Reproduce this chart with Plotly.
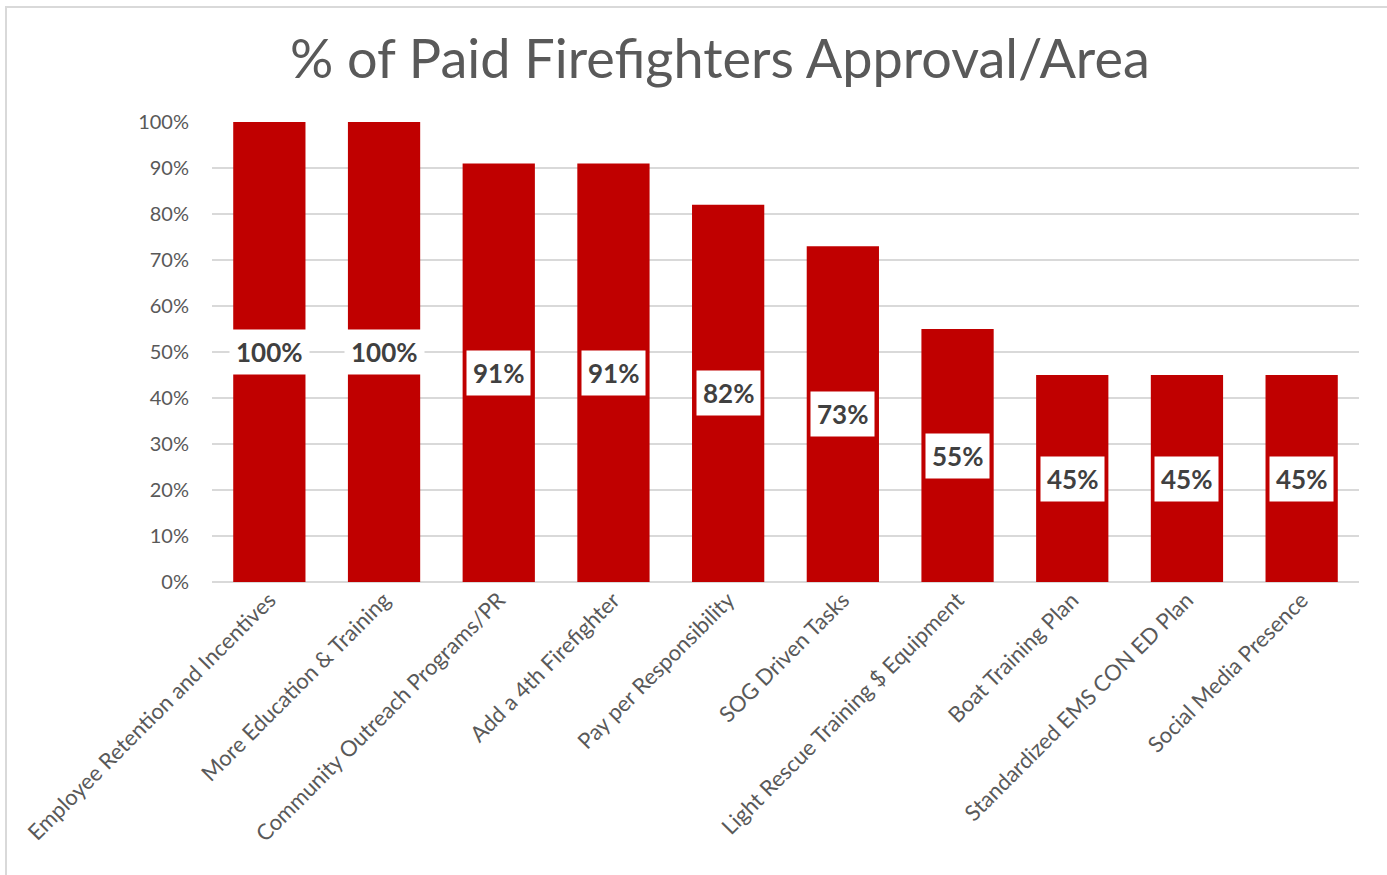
import plotly.graph_objects as go

# Survey results: share of paid firefighters approving each area
categories = [
    "Employee Retention and Incentives",
    "More Education & Training",
    "Community Outreach Programs/PR",
    "Add a 4th Firefighter",
    "Pay per Responsibility",
    "SOG Driven Tasks",
    "Light Rescue Training $ Equipment",
    "Boat Training Plan",
    "Standardized EMS CON ED Plan",
    "Social Media Presence",
]
approval_pct = [100, 100, 91, 91, 82, 73, 55, 45, 45, 45]
y_ticks = [0, 10, 20, 30, 40, 50, 60, 70, 80, 90, 100]
y_tick_labels = [f"{v}%" for v in y_ticks]

FONT = "Lato, 'Open Sans', sans-serif"
BAR_RED = "#C00000"
TEXT_GRAY = "#595959"
GRID = "#D9D9D9"

fig = go.Figure(
    go.Bar(
        x=categories,
        y=approval_pct,
        marker=dict(color=BAR_RED, line=dict(width=0)),
        hoverinfo="x+y",
    )
)

# Value labels in white boxes, centred on each bar
for cat, val in zip(categories, approval_pct):
    fig.add_annotation(
        x=cat, y=val / 2, xref="x", yref="y",
        text=f"<b>{val}%</b>",
        showarrow=False,
        font=dict(family=FONT, size=26, color="#404040"),
        bgcolor="white",
        borderpad=6,
    )

# Light frame around the whole chart
fig.add_shape(
    type="rect", xref="paper", yref="paper",
    x0=-0.1796, x1=1.2, y0=-1.2, y1=1.25,
    line=dict(color=GRID, width=2), fillcolor="rgba(0,0,0,0)",
    layer="below",
)

fig.update_layout(
    width=1387, height=875,
    margin=dict(l=212, r=28, t=122, b=293),
    paper_bgcolor="white", plot_bgcolor="white",
    bargap=0.37,
    showlegend=False,
    title=dict(
        text="% of Paid Firefighters Approval/Area",
        x=0.519, xref="container", xanchor="center",
        y=0.932, yref="container", yanchor="middle",
        font=dict(family=FONT, size=54, color=TEXT_GRAY),
    ),
    xaxis=dict(
        tickangle=-45,
        tickfont=dict(family=FONT, size=22, color=TEXT_GRAY),
        showgrid=False, showline=False, ticks="",
    ),
    yaxis=dict(
        range=[0, 100],
        tickmode="array",
        tickvals=y_ticks,
        ticktext=y_tick_labels,
        tickfont=dict(family=FONT, size=20, color=TEXT_GRAY),
        showgrid=True, gridcolor=GRID, gridwidth=1.5,
        zeroline=True, zerolinecolor=GRID, zerolinewidth=1.5,
        showline=False, ticks="", ticklabelstandoff=22,
    ),
)

fig.write_html("out.html")
